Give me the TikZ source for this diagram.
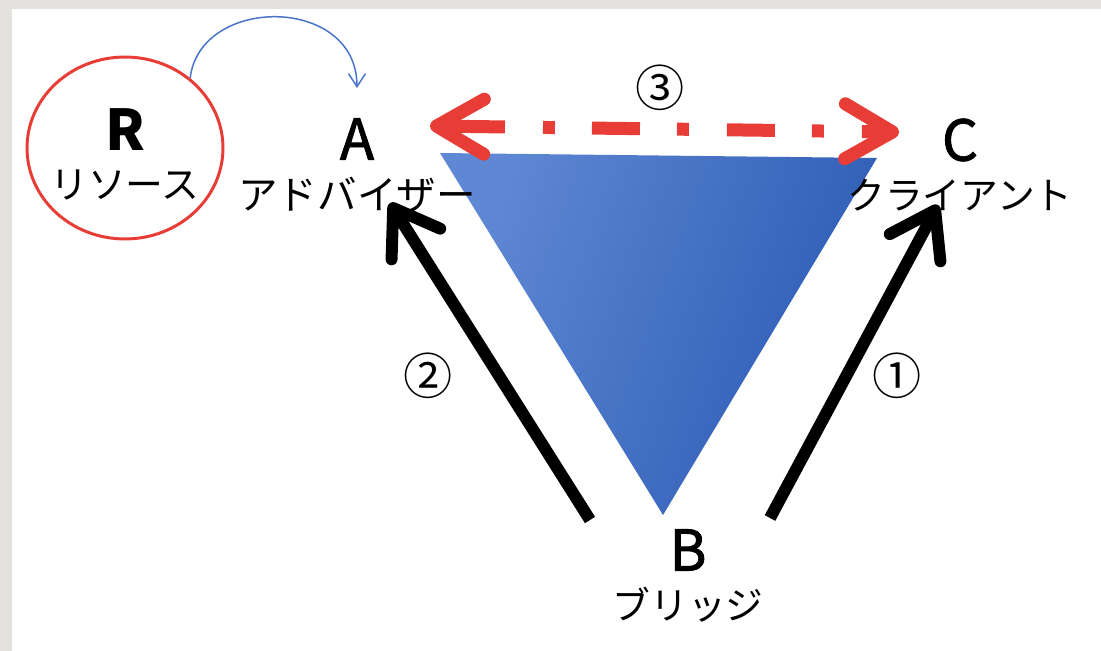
\documentclass[tikz,border=0pt]{standalone}
\usepackage{fontspec}
\setmainfont{Noto Sans CJK JP}
\newfontfamily\heavyfont[FakeBold=1.6]{Noto Sans CJK JP}
\usepackage{xcolor}
\usetikzlibrary{arrows.meta,shapes.geometric}
\definecolor{bggrey}{HTML}{E4E2DE}
\definecolor{pinred}{HTML}{E83C36}
\definecolor{trilight}{HTML}{5F88D4}
\definecolor{tridark}{HTML}{2C5BB4}
\definecolor{arcblue}{HTML}{4A74CC}
\tikzstyle{letter} = [font=\fontsize{32}{32}\selectfont\heavyfont]
\tikzstyle{kana} = [font=\fontsize{21.5}{21.5}\selectfont]
\tikzstyle{num} = [font=\fontsize{28}{28}\selectfont]
\tikzstyle{flow} = [draw, line width=6.8pt, -{Straight Barb[length=0.85cm,width=1.15cm,round]}]
\tikzstyle{trade} = [draw=pinred, line width=7.4pt, {Straight Barb[length=0.95cm,width=1.1cm,round]}-{Straight Barb[length=0.95cm,width=1.1cm,round]}]

\begin{document}
\begin{tikzpicture}[x=0.02cm,y=-0.02cm]
\useasboundingbox (0,0) rectangle (1101,651);
\fill[bggrey] (0,0) rectangle (1101,651);
\fill[white] (12,9) rectangle (1101,651);
%
\shade[left color=trilight, right color=tridark, shading angle=70] (440,153) -- (877,158) -- (663,515) -- cycle;
%
\node[ellipse, draw=pinred, line width=1.7pt, minimum width=3.92cm, minimum height=3.64cm] (res) at (125,148) {};
\node[font=\fontsize{32}{32}\selectfont\bfseries] (r) at (125,130) {R};
\node[kana] (r-name) at (125,185) {リソース};
%
\node[letter] (a) at (357,139) {A};
\node[kana, font=\fontsize{22.5}{22.5}\selectfont] (a-name) at (357,195) {アドバイザー};
\node[letter] (b) at (688,550) {B};
\node[kana] (b-name) at (688,605) {ブリッジ};
\node[letter] (c) at (960,140) {C};
\node[kana] (c-name) at (960,195) {クライアント};
%
\coordinate (a-top) at (357,88);
\coordinate (a-in) at (390,203);
\coordinate (c-in) at (938,205);
\coordinate (b-left) at (590,520);
\coordinate (b-right) at (770,518);
\coordinate (trade-a) at (430,126);
\coordinate (trade-c) at (899,132);
%
\draw[arcblue, line width=0.85pt, -{Straight Barb[length=0.26cm,width=0.34cm]}] (res.47) .. controls (200,-5) and (357,-5) .. (a-top);
\path[flow] (b-left) -- (a-in);
\path[flow] (b-right) -- (c-in);
\path[trade, dash pattern=on 1.24cm off 0.76cm on 0.24cm off 0.74cm on 0.96cm off 0.74cm on 0.24cm off 0.76cm on 0.96cm off 0.74cm on 0.24cm off 0.76cm on 2cm] (trade-a) -- (trade-c);
%
\node[num] (n3) at (660,88) {③};
\node[num] (n2) at (428,376) {②};
\node[num] (n1) at (897,376) {①};
\end{tikzpicture}
\end{document}
